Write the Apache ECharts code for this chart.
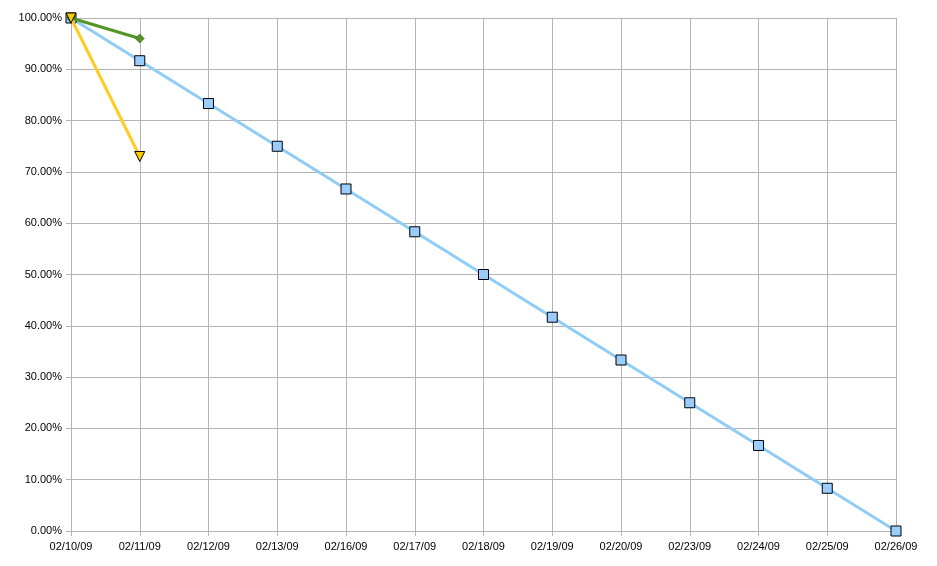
<!DOCTYPE html>
<html><head><meta charset="utf-8">
<script src="https://cdn.jsdelivr.net/npm/echarts@6/dist/echarts.min.js"></script>
<style>html,body{margin:0;padding:0;background:#fff}#c{width:937px;height:566px}</style>
</head><body><div id="c"></div>
<script>
const categories = ['02/10/09','02/11/09','02/12/09','02/13/09','02/16/09','02/17/09','02/18/09','02/19/09','02/20/09','02/23/09','02/24/09','02/25/09','02/26/09'];
const idealValues = [100, 91.67, 83.33, 75, 66.67, 58.33, 50, 41.67, 33.33, 25, 16.67, 8.33, 0];
const greenValues = [100, 96];
const yellowValues = [100, 73];
const yTicks = {min: 0, max: 100, interval: 10};

const chart = echarts.init(document.getElementById('c'), null, {renderer: 'canvas'});
chart.setOption({
  animation: false,
  backgroundColor: '#fff',
  grid: {left: 71, right: 41, top: 18, bottom: 35, containLabel: false},
  xAxis: {
    type: 'category', data: categories, boundaryGap: false,
    axisLine: {lineStyle: {color: '#b3b3b3', width: 1}},
    axisTick: {show: true, alignWithLabel: true, length: 5, lineStyle: {color: '#b3b3b3'}},
    axisLabel: {color: '#000', fontFamily: 'Liberation Sans, Arial', fontSize: 11, margin: 10, interval: 0},
    splitLine: {show: true, lineStyle: {color: '#b3b3b3', width: 1}}
  },
  yAxis: {
    type: 'value', min: yTicks.min, max: yTicks.max, interval: yTicks.interval,
    axisLine: {show: true, lineStyle: {color: '#b3b3b3', width: 1}},
    axisTick: {show: true, length: 5, lineStyle: {color: '#b3b3b3'}},
    axisLabel: {color: '#000', fontFamily: 'Liberation Sans, Arial', fontSize: 11, margin: 9,
      formatter: v => v.toFixed(2) + '%'},
    splitLine: {show: true, lineStyle: {color: '#b3b3b3', width: 1}}
  },
  series: [
    {type: 'line', data: idealValues, symbol: 'rect', symbolSize: 10,
      lineStyle: {color: '#8fcdf7', width: 3},
      itemStyle: {color: '#99ccff', borderColor: '#000', borderWidth: 1}, z: 2},
    {type: 'line', data: greenValues, symbol: 'diamond', symbolSize: 9,
      lineStyle: {color: '#559527', width: 3},
      itemStyle: {color: '#559527', borderColor: '#2a4a10', borderWidth: 0.5}, z: 3},
    {type: 'line', data: yellowValues, symbol: 'triangle', symbolRotate: 180, symbolSize: 10,
      lineStyle: {color: '#ffcc22', width: 3},
      itemStyle: {color: '#ffcc00', borderColor: '#000', borderWidth: 1}, z: 4}
  ]
});
</script></body></html>
